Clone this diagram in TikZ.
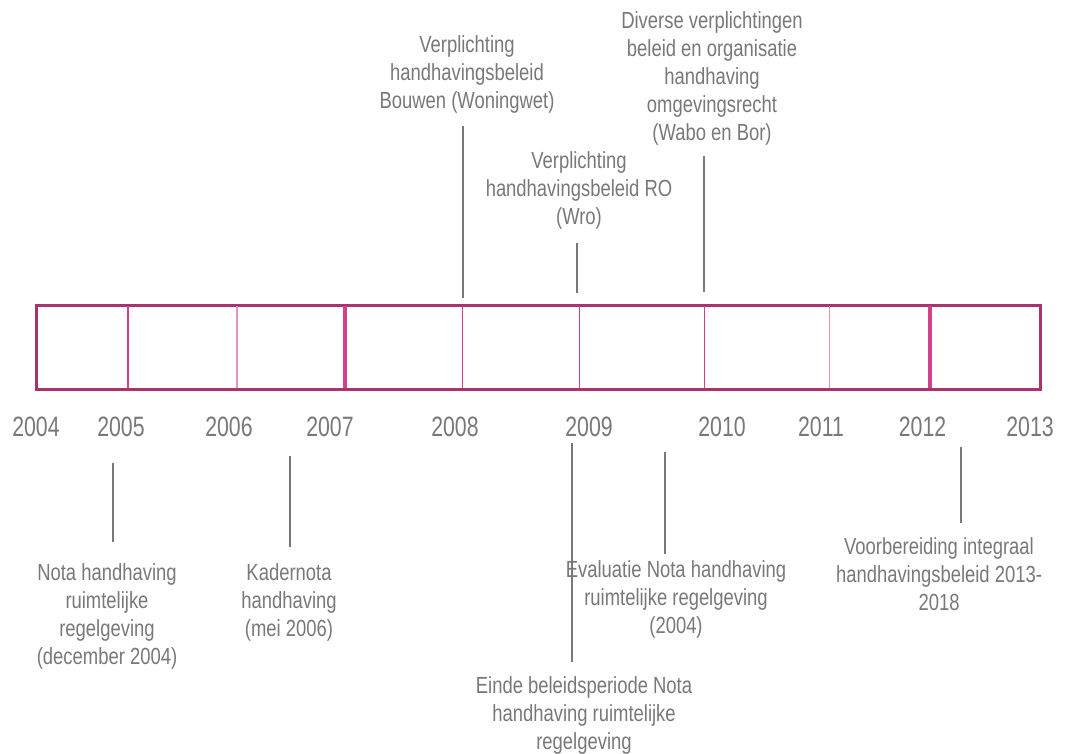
\documentclass[tikz,border=0pt]{standalone}
\usepackage{fontspec}
\setmainfont{Liberation Sans}
\newfontfamily\smalletter[FakeStretch=0.79]{Liberation Sans}
\newfontfamily\jaarletter[FakeStretch=0.76]{Liberation Sans}
\usepackage{xcolor}
\usetikzlibrary{positioning}

\definecolor{balkrand}{RGB}{170,50,110}
\definecolor{jaarlijn}{RGB}{215,60,140}
\definecolor{lichtlijn}{RGB}{232,145,190}
\definecolor{dikkelijn}{RGB}{210,65,140}
\definecolor{grijs}{RGB}{120,120,120}

\begin{document}
\begin{tikzpicture}[x=0.75pt, y=-0.75pt,
    jaar/.style={text=grijs, font=\jaarletter\fontsize{21}{25}\selectfont, inner sep=0pt},
    mijlpaal/.style={text=grijs, align=center, font=\smalletter\fontsize{17.5}{21}\selectfont, inner sep=0pt},
    aanwijzer/.style={draw=grijs, line width=1.5pt}]
    \useasboundingbox (0,0) rectangle (1070,753);

    % Balk
    \node[draw=balkrand, line width=1.5pt, minimum width=1003*0.75pt, minimum height=83*0.75pt,
          inner sep=0pt, anchor=north west] (balk) at (36,305) {};
    \draw[jaarlijn, line width=0.8pt] (128,305) -- (128,388);
    \draw[lichtlijn, line width=0.8pt] (237,305) -- (237,388);
    \draw[dikkelijn, line width=3pt] (345,305) -- (345,388);
    \draw[jaarlijn, line width=0.8pt] (462.7,305) -- (462.7,388);
    \draw[jaarlijn, line width=0.8pt] (579.3,305) -- (579.3,388);
    \draw[jaarlijn, line width=0.8pt] (704.3,305) -- (704.3,388);
    \draw[lichtlijn, line width=0.8pt] (829.7,305) -- (829.7,388);
    \draw[dikkelijn, line width=3pt] (930,305) -- (930,388);
    \draw[balkrand, line width=1.5pt] (balk.north west) rectangle (balk.south east);

    % Jaren
    \foreach \x/\j in {36/2004, 121/2005, 229/2006, 330/2007, 455/2008,
                       589/2009, 722/2010, 821/2011, 922.5/2012, 1030/2013}
        \node[jaar] (j\j) at (\x,427) {\j};

    % Mijlpalen boven
    \node[mijlpaal] (bouwen) at (467,74) {Verplichting\\handhavingsbeleid\\Bouwen (Woningwet)};
    \node[mijlpaal] (wro) at (579,190) {Verplichting\\handhavingsbeleid RO\\(Wro)};
    \node[mijlpaal] (wabo) at (712,78.5) {Diverse verplichtingen\\beleid en organisatie\\handhaving\\omgevingsrecht\\(Wabo en Bor)};

    % Mijlpalen onder
    \node[mijlpaal] (nota) at (107,616.5) {Nota handhaving\\ruimtelijke\\regelgeving\\(december 2004)};
    \node[mijlpaal] (kadernota) at (289,602) {Kadernota\\handhaving\\(mei 2006)};
    \node[mijlpaal] (einde) at (584,715.5) {Einde beleidsperiode Nota\\handhaving ruimtelijke\\regelgeving};
    \node[mijlpaal] (evaluatie) at (676,599) {Evaluatie Nota handhaving\\ruimtelijke regelgeving\\(2004)};
    \node[mijlpaal] (voorbereiding) at (939,574.5) {Voorbereiding integraal\\handhavingsbeleid 2013-\\2018};

    % Aanwijslijnen
    \coordinate (bouwen-a) at (462.7,126);  \coordinate (bouwen-b) at (462.7,298);
    \coordinate (wro-a) at (576.7,243);     \coordinate (wro-b) at (576.7,293);
    \coordinate (wabo-a) at (704,156);      \coordinate (wabo-b) at (704,292);
    \coordinate (nota-a) at (113.3,463);    \coordinate (nota-b) at (113.3,541.7);
    \coordinate (kader-a) at (290,456);     \coordinate (kader-b) at (290,547);
    \coordinate (einde-a) at (571.7,443);   \coordinate (einde-b) at (571.7,661.7);
    \coordinate (eval-a) at (665,452);      \coordinate (eval-b) at (665,554);
    \coordinate (voor-a) at (961,447);      \coordinate (voor-b) at (961,523);
    \foreach \p in {bouwen, wro, wabo, nota, kader, einde, eval, voor}
        \draw[aanwijzer] (\p-a) -- (\p-b);
\end{tikzpicture}
\end{document}
